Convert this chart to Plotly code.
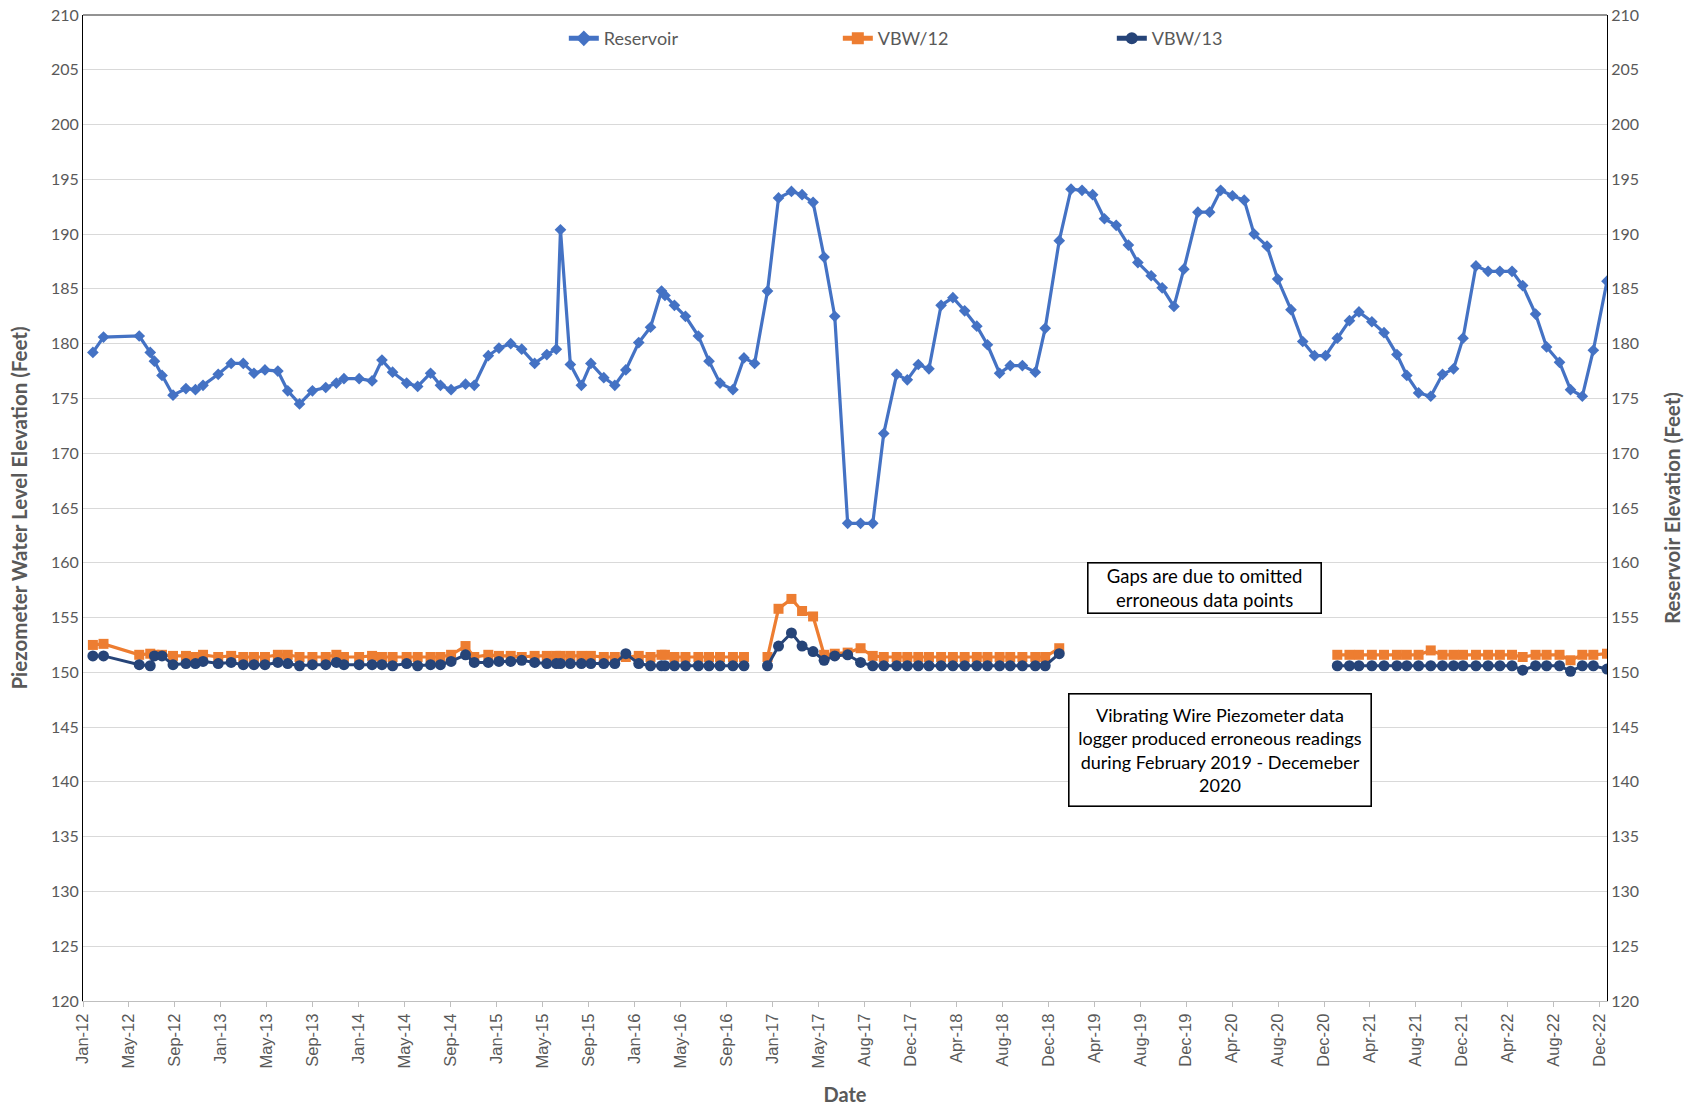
import plotly.graph_objects as go

# ---------------- data ----------------
dates = [
    "2012-02-08", "2012-03-07", "2012-06-09", "2012-07-08", "2012-07-19", "2012-08-08", "2012-09-06", "2012-10-10", "2012-11-04", "2012-11-24",
    "2013-01-03", "2013-02-06", "2013-03-10", "2013-04-07", "2013-05-06", "2013-06-09", "2013-07-05", "2013-08-05", "2013-09-08", "2013-10-13",
    "2013-11-10", "2013-11-30", "2014-01-09", "2014-02-12", "2014-03-10", "2014-04-07", "2014-05-14", "2014-06-12", "2014-07-16", "2014-08-11",
    "2014-09-08", "2014-10-16", "2014-11-08", "2014-12-15", "2015-01-12", "2015-02-12", "2015-03-13", "2015-04-16", "2015-05-18", "2015-06-12",
    "2015-06-23", "2015-07-19", "2015-08-17", "2015-09-11", "2015-10-15", "2015-11-13", "2015-12-12", "2016-01-15", "2016-02-15", "2016-03-15",
    "2016-03-24", "2016-04-18", "2016-05-17", "2016-06-20", "2016-07-18", "2016-08-16", "2016-09-19", "2016-10-18", "2016-11-15", "2016-12-19",
    "2017-01-17", "2017-02-20", "2017-03-20", "2017-04-18", "2017-05-17", "2017-06-14", "2017-07-18", "2017-08-21", "2017-09-22", "2017-10-21",
    "2017-11-24", "2017-12-22", "2018-01-20", "2018-02-17", "2018-03-21", "2018-04-21", "2018-05-22", "2018-06-23", "2018-07-21", "2018-08-22",
    "2018-09-19", "2018-10-21", "2018-11-24", "2018-12-20", "2019-01-26", "2019-02-26", "2019-03-27", "2019-04-24", "2019-05-25", "2019-06-25",
    "2019-07-27", "2019-08-21", "2019-09-25", "2019-10-24", "2019-11-24", "2019-12-20", "2020-01-26", "2020-02-26", "2020-03-26", "2020-04-26",
    "2020-05-27", "2020-06-22", "2020-07-26", "2020-08-23", "2020-09-27", "2020-10-28", "2020-11-28", "2020-12-27", "2021-01-27", "2021-02-28",
    "2021-03-25", "2021-04-28", "2021-05-30", "2021-07-03", "2021-07-29", "2021-08-29", "2021-09-30", "2021-10-31", "2021-11-29", "2021-12-24",
    "2022-01-27", "2022-02-28", "2022-03-31", "2022-05-02", "2022-05-30", "2022-07-03", "2022-08-01", "2022-09-04", "2022-10-03", "2022-11-03",
    "2022-12-02", "2023-01-07",
]

reservoir = [
    179.2, 180.6, 180.7, 179.2, 178.4, 177.1, 175.3, 175.9, 175.8, 176.2,
    177.2, 178.2, 178.2, 177.3, 177.6, 177.5, 175.7, 174.5, 175.7, 176.0,
    176.4, 176.8, 176.8, 176.6, 178.5, 177.4, 176.4, 176.1, 177.3, 176.2,
    175.8, 176.3, 176.2, 178.9, 179.6, 180.0, 179.5, 178.2, 179.0, 179.5,
    190.4, 178.1, 176.2, 178.2, 176.9, 176.2, 177.6, 180.1, 181.5, 184.8,
    184.4, 183.5, 182.5, 180.7, 178.4, 176.4, 175.8, 178.7, 178.2, 184.8,
    193.3, 193.9, 193.6, 192.9, 187.9, 182.5, 163.6, 163.6, 163.6, 171.8,
    177.2, 176.7, 178.1, 177.7, 183.5, 184.2, 183.0, 181.6, 179.9, 177.3,
    178.0, 178.0, 177.4, 181.4, 189.4, 194.1, 194.0, 193.6, 191.4, 190.8,
    189.0, 187.4, 186.2, 185.1, 183.4, 186.8, 192.0, 192.0, 194.0, 193.5,
    193.1, 190.0, 188.9, 185.9, 183.1, 180.2, 178.9, 178.9, 180.5, 182.1,
    182.9, 182.0, 181.0, 179.0, 177.1, 175.5, 175.2, 177.2, 177.7, 180.5,
    187.1, 186.6, 186.6, 186.6, 185.3, 182.7, 179.7, 178.3, 175.8, 175.2,
    179.4, 185.7,
]

vbw12 = [
    152.5, 152.6, 151.6, 151.7, 151.6, 151.6, 151.5, 151.5, 151.4, 151.6,
    151.4, 151.5, 151.4, 151.4, 151.4, 151.6, 151.6, 151.4, 151.4, 151.4,
    151.6, 151.4, 151.4, 151.5, 151.4, 151.4, 151.4, 151.4, 151.4, 151.4,
    151.6, 152.4, 151.4, 151.6, 151.5, 151.5, 151.4, 151.5, 151.5, 151.5,
    151.5, 151.5, 151.5, 151.5, 151.4, 151.4, 151.4, 151.5, 151.4, 151.6,
    151.6, 151.4, 151.4, 151.4, 151.4, 151.4, 151.4, 151.4, None, 151.4,
    155.8, 156.7, 155.6, 155.1, 151.6, 151.7, 151.8, 152.2, 151.5, 151.4,
    151.4, 151.4, 151.4, 151.4, 151.4, 151.4, 151.4, 151.4, 151.4, 151.4,
    151.4, 151.4, 151.4, 151.4, 152.2, None, None, None, None, None,
    None, None, None, None, None, None, None, None, None, None,
    None, None, None, None, None, None, None, None, 151.6, 151.6,
    151.6, 151.6, 151.6, 151.6, 151.6, 151.6, 152.0, 151.6, 151.6, 151.6,
    151.6, 151.6, 151.6, 151.6, 151.4, 151.6, 151.6, 151.6, 151.1, 151.6,
    151.6, 151.7,
]

vbw13 = [
    151.5, 151.5, 150.7, 150.6, 151.5, 151.5, 150.7, 150.8, 150.8, 151.0,
    150.8, 150.9, 150.7, 150.7, 150.7, 150.9, 150.8, 150.6, 150.7, 150.7,
    150.9, 150.7, 150.7, 150.7, 150.7, 150.6, 150.8, 150.6, 150.7, 150.7,
    151.0, 151.6, 150.9, 150.9, 151.0, 151.0, 151.1, 150.9, 150.8, 150.8,
    150.8, 150.8, 150.8, 150.8, 150.8, 150.8, 151.7, 150.8, 150.6, 150.6,
    150.6, 150.6, 150.6, 150.6, 150.6, 150.6, 150.6, 150.6, None, 150.6,
    152.4, 153.6, 152.4, 151.9, 151.1, 151.5, 151.6, 150.9, 150.6, 150.6,
    150.6, 150.6, 150.6, 150.6, 150.6, 150.6, 150.6, 150.6, 150.6, 150.6,
    150.6, 150.6, 150.6, 150.6, 151.7, None, None, None, None, None,
    None, None, None, None, None, None, None, None, None, None,
    None, None, None, None, None, None, None, None, 150.6, 150.6,
    150.6, 150.6, 150.6, 150.6, 150.6, 150.6, 150.6, 150.6, 150.6, 150.6,
    150.6, 150.6, 150.6, 150.6, 150.2, 150.6, 150.6, 150.6, 150.1, 150.6,
    150.6, 150.3,
]

series_names = ["Reservoir", "VBW/12", "VBW/13"]
note_gaps = "Gaps are due to omitted<br>erroneous data points"
note_logger = ("Vibrating Wire Piezometer data<br>logger produced erroneous readings"
               "<br>during February 2019 - Decemeber<br>2020")

# ---------------- styling ----------------
FONT = "Lato"
GRAY = "#595959"
C_RES = "#4472C4"
C_12 = "#ED7D31"
C_13 = "#264478"

fig = go.Figure()
fig.add_trace(go.Scatter(
    x=dates, y=reservoir, name=series_names[0], mode="lines+markers",
    line=dict(color=C_RES, width=3.2),
    marker=dict(symbol="diamond", size=9, color=C_RES),
    yaxis="y2",
))
fig.add_trace(go.Scatter(
    x=dates, y=vbw12, name=series_names[1], mode="lines+markers",
    line=dict(color=C_12, width=3.2),
    marker=dict(symbol="square", size=10, color=C_12),
    connectgaps=False,
))
fig.add_trace(go.Scatter(
    x=dates, y=vbw13, name=series_names[2], mode="lines+markers",
    line=dict(color=C_13, width=3),
    marker=dict(symbol="circle", size=11, color=C_13),
    connectgaps=False,
))

yax_common = dict(
    range=[120, 210], dtick=5, tick0=120, automargin=False,
    tickfont=dict(family=FONT, size=16, color=GRAY),
    zeroline=False, ticks="", ticklabeloverflow="allow",
)

fig.update_layout(
    width=1698, height=1108,
    margin=dict(l=83, r=91, t=15, b=107),
    paper_bgcolor="white", plot_bgcolor="white",
    font=dict(family=FONT, color=GRAY),
    showlegend=True,
    legend=dict(
        orientation="h", x=0.3155, y=0.976, xanchor="left", yanchor="middle",
        font=dict(family=FONT, size=18, color=GRAY),
        entrywidth=229, entrywidthmode="pixels",
        bgcolor="rgba(0,0,0,0)", itemsizing="constant",
    ),
    xaxis=dict(
        type="date",
        range=["2012-01-13", "2023-01-07"],
        tick0="2012-01-13", dtick=121 * 86400000,
        tickformat="%b-%y", tickangle=-90,
        tickfont=dict(family="Liberation Sans", size=16.5, color=GRAY),
        ticks="outside", ticklen=5, tickcolor="#BFBFBF",
        showgrid=False, showline=True, linecolor="#BFBFBF", linewidth=1,
        automargin=False,
        title=dict(text="<b>Date</b>", font=dict(family=FONT, size=20, color=GRAY), standoff=20),
    ),
    yaxis=dict(
        **yax_common,
        showgrid=True, gridcolor="#D9D9D9", gridwidth=1.3,
        showline=True, linecolor="#000000", linewidth=1,
        title=dict(text="<b>Piezometer Water Level Elevation (Feet)</b>",
                   font=dict(family=FONT, size=20.5, color=GRAY), standoff=17),
    ),
    yaxis2=dict(
        **yax_common,
        overlaying="y", side="right", showgrid=False,
        showline=True, linecolor="#000000", linewidth=1,
        title=dict(text="<b>Reservoir Elevation (Feet)</b>",
                   font=dict(family=FONT, size=20.5, color=GRAY), standoff=27),
    ),
    shapes=[dict(type="line", xref="paper", yref="paper", x0=0, x1=1, y0=1, y1=1,
                 line=dict(color="#262626", width=1))],
    annotations=[
        dict(text=note_gaps, xref="paper", yref="paper", x=0.7362, y=0.4184,
             xanchor="center", yanchor="middle", showarrow=False,
             width=232, height=49, borderpad=0,
             bordercolor="#000000", borderwidth=1.6, bgcolor="white",
             font=dict(family=FONT, size=18.5, color="#000000")),
        dict(text=note_logger, xref="paper", yref="paper", x=0.7461, y=0.2541,
             xanchor="center", yanchor="middle", showarrow=False,
             width=301, height=111, borderpad=0,
             bordercolor="#000000", borderwidth=1.6, bgcolor="white",
             font=dict(family=FONT, size=18, color="#000000")),
    ],
)

fig.write_html("out.html", config={"displayModeBar": False},
               post_script="document.body.style.margin='0px';")
